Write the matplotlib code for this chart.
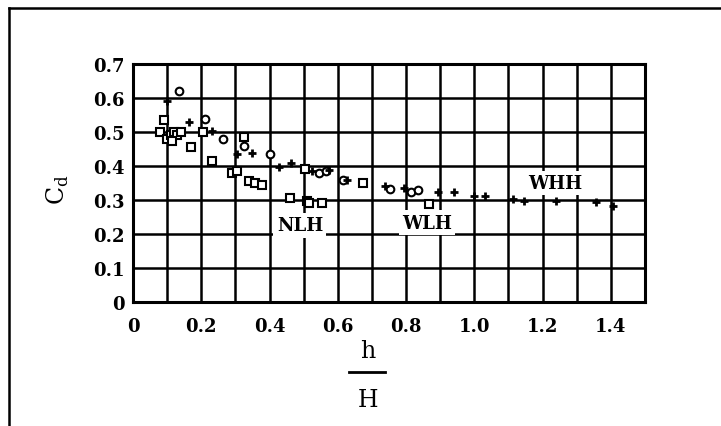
import matplotlib
matplotlib.use("Agg")
import matplotlib.pyplot as plt
from matplotlib.lines import Line2D
import numpy as np

# ---- data ----
sq_x = [0.08, 0.09, 0.10, 0.11, 0.12, 0.13, 0.14, 0.115, 0.17, 0.205, 0.23, 0.29, 0.305,
        0.325, 0.34, 0.358, 0.378, 0.46, 0.505, 0.51, 0.515, 0.555, 0.675, 0.867]
sq_y = [0.50, 0.535, 0.48, 0.49, 0.50, 0.49, 0.50, 0.475, 0.455, 0.50, 0.415, 0.38, 0.385,
        0.485, 0.357, 0.349, 0.343, 0.305, 0.39, 0.298, 0.29, 0.29, 0.35, 0.288]

ci_x = [0.135, 0.21, 0.265, 0.325, 0.40, 0.545, 0.565, 0.615, 0.752, 0.815, 0.835]
ci_y = [0.62, 0.538, 0.478, 0.458, 0.434, 0.38, 0.385, 0.358, 0.332, 0.324, 0.328]

pl_x = [0.10, 0.165, 0.23, 0.305, 0.35, 0.427, 0.463, 0.525, 0.575, 0.628, 0.738, 0.795,
        0.895, 0.94, 0.998, 1.03, 1.113, 1.145, 1.24, 1.355, 1.405]
pl_y = [0.59, 0.528, 0.502, 0.435, 0.438, 0.398, 0.41, 0.385, 0.388, 0.36, 0.342, 0.336,
        0.324, 0.325, 0.312, 0.312, 0.303, 0.296, 0.297, 0.293, 0.282]

x_ticks = [0, 0.2, 0.4, 0.6, 0.8, 1.0, 1.2, 1.4]
x_ticklabels = ["0", "0.2", "0.4", "0.6", "0.8", "1.0", "1.2", "1.4"]
y_ticks = [0, 0.1, 0.2, 0.3, 0.4, 0.5, 0.6, 0.7]
y_ticklabels = ["0", "0.1", "0.2", "0.3", "0.4", "0.5", "0.6", "0.7"]

region_labels = ["NLH", "WLH", "WHH"]
region_x = [0.489, 0.861, 1.236]
region_y = [0.226, 0.233, 0.350]

W, H = 721, 427
fig = plt.figure(figsize=(W / 100, H / 100), dpi=100)
fig.patch.set_facecolor("white")

left, right, top, bottom = 133, 645, 65, 303
ax = fig.add_axes([left / W, 1 - bottom / H, (right - left) / W, (bottom - top) / H])
ax.set_xlim(0, 1.5)
ax.set_ylim(0, 0.7)

serif = ["DejaVu Serif"]

# grid
for gx in np.arange(0.1, 1.5, 0.1):
    ax.axvline(gx, color="black", lw=1.8, zorder=1)
for gy in np.arange(0.1, 0.7, 0.1):
    ax.axhline(gy, color="black", lw=1.8, zorder=1)

for s in ax.spines.values():
    s.set_linewidth(2.2)

ax.set_xticks(x_ticks)
ax.set_xticklabels(x_ticklabels, family=serif, fontsize=13, fontweight="bold")
ax.set_yticks(y_ticks)
ax.set_yticklabels(y_ticklabels, family=serif, fontsize=13, fontweight="bold")
ax.tick_params(axis="x", length=0, pad=11)
ax.tick_params(axis="y", length=0, pad=6)

# data
ax.plot(sq_x, sq_y, ls="none", marker="s", ms=5.3, mfc="white", mec="black", mew=1.5, zorder=4)
ax.plot(ci_x, ci_y, ls="none", marker="o", ms=5.5, mfc="white", mec="black", mew=1.5, zorder=4)
ax.plot(pl_x, pl_y, ls="none", marker="+", ms=5.5, mec="black", mew=2.0, zorder=4)

# region labels
for lab, lx, ly in zip(region_labels, region_x, region_y):
    ax.text(lx, ly, lab, family=serif, fontsize=13, fontweight="bold", ha="center", va="center",
            zorder=3, bbox=dict(facecolor="white", edgecolor="none", pad=2.5))

# y label
fig.text(58 / W, 1 - 190 / H, r"C$_\mathregular{d}$", family=serif, fontsize=17,
         rotation=90, ha="center", va="center")

# x label as fraction
fig.text(368 / W, 1 - 352 / H, "h", family=serif, fontsize=17, ha="center", va="center")
fig.text(368 / W, 1 - 401 / H, "H", family=serif, fontsize=17, ha="center", va="center")
fig.add_artist(Line2D([349 / W, 385 / W], [1 - 373 / H, 1 - 373 / H], color="black", lw=2.0))

# outer frame (top and left only visible)
fig.add_artist(Line2D([9 / W, 1.0], [1 - 9 / H, 1 - 9 / H], color="black", lw=1.8))
fig.add_artist(Line2D([9 / W, 9 / W], [1 - 9 / H, 0], color="black", lw=1.8))

fig.savefig("out.png", dpi=100, facecolor="white")
